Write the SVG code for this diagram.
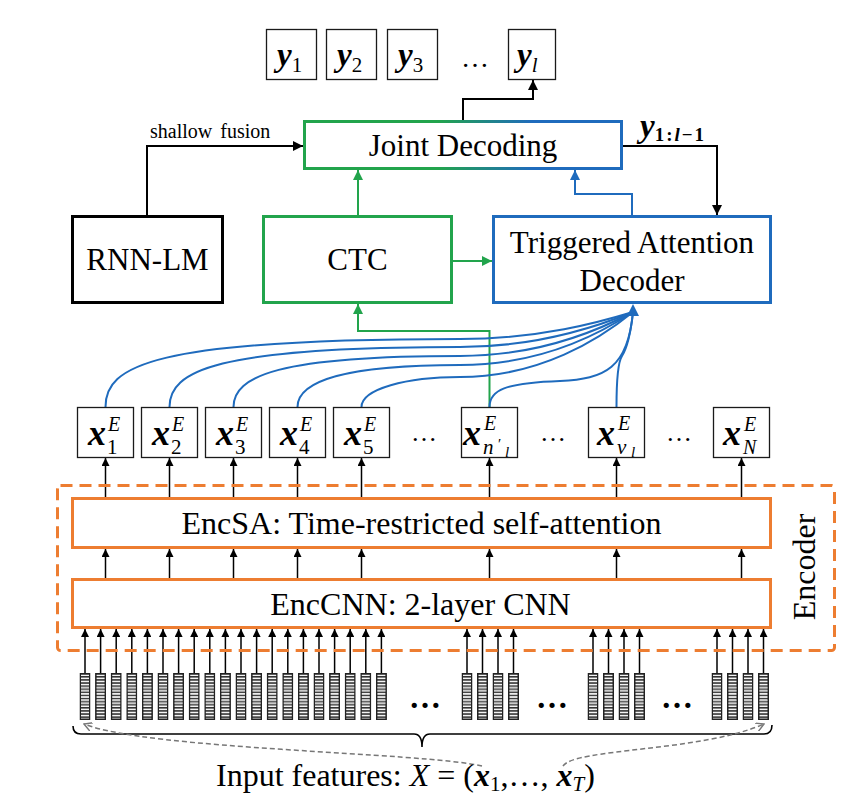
<svg xmlns="http://www.w3.org/2000/svg" xmlns:xlink="http://www.w3.org/1999/xlink" width="862" height="806" viewBox="0 0 862 806">
<style>
text{font-family:"Liberation Serif","Times New Roman",serif;fill:#000}
.big{font-size:31px}
.mid{font-size:32px}
.bi{font-weight:bold;font-style:italic}
.it{font-style:italic}
.box{fill:#fff;stroke:#1a1a1a;stroke-width:1.3}
.ln{fill:none;stroke:#000;stroke-width:2}
.thin{fill:none;stroke:#000;stroke-width:1.5}
.gr{fill:none;stroke:#22a44c;stroke-width:2}
.bl{fill:none;stroke:#1f6bbd;stroke-width:2}
.or{fill:#fff;stroke:#ed7d31;stroke-width:3}
</style>
<defs>
<marker id="ak" viewBox="0 0 10 10" refX="10" refY="5" markerWidth="10" markerHeight="10" markerUnits="userSpaceOnUse" orient="auto"><path d="M0,0 L10,5 L0,10 z" fill="#000"/></marker>
<marker id="aks" viewBox="0 0 10 10" refX="10" refY="5" markerWidth="9" markerHeight="8" markerUnits="userSpaceOnUse" orient="auto"><path d="M0,0 L10,5 L0,10 z" fill="#000"/></marker>
<marker id="ag" viewBox="0 0 10 10" refX="10" refY="5" markerWidth="10" markerHeight="10" markerUnits="userSpaceOnUse" orient="auto"><path d="M0,0 L10,5 L0,10 z" fill="#22a44c"/></marker>
<marker id="ab" viewBox="0 0 10 10" refX="10" refY="5" markerWidth="10" markerHeight="10" markerUnits="userSpaceOnUse" orient="auto"><path d="M0,0 L10,5 L0,10 z" fill="#1f6bbd"/></marker>
<marker id="agr" viewBox="0 0 10 10" refX="9" refY="5" markerWidth="9" markerHeight="9" markerUnits="userSpaceOnUse" orient="auto"><path d="M0,0 L9,5 L0,10" fill="none" stroke="#777" stroke-width="1.6"/></marker>
<linearGradient id="jdg" x1="0" y1="0" x2="1" y2="0">
<stop offset="0" stop-color="#22a44c"/><stop offset="0.42" stop-color="#22a44c"/><stop offset="0.72" stop-color="#1f6bbd"/><stop offset="1" stop-color="#1f6bbd"/>
</linearGradient>
<pattern id="stp" width="11" height="3.1" patternUnits="userSpaceOnUse"><rect width="11" height="1.5" fill="#333"/><rect y="1.5" width="11" height="1.6" fill="#f4f4f4"/></pattern>
<symbol id="bar" viewBox="0 0 11 47" width="11" height="47">
<rect x="0.75" y="0.75" width="9.5" height="45.5" fill="url(#stp)" stroke="#222" stroke-width="1.5"/>
<rect x="1.5" y="13" width="8" height="6" fill="#999" opacity="0.45"/>
<rect x="1.5" y="27" width="8" height="5" fill="#999" opacity="0.45"/>
</symbol>
</defs>

<g id="connectors">
<path class="ln" d="M463,120 V99 H533 V80" marker-end="url(#ak)"/>
<path class="ln" d="M147,215 V146 H303" marker-end="url(#ak)"/>
<path class="ln" d="M623,146 H717 V215" marker-end="url(#ak)"/>
<path class="gr" d="M358,216 V170" marker-end="url(#ag)"/>
<path class="gr" d="M453,261 H492" marker-end="url(#ag)"/>
<path class="bl" d="M632,215 V194 H575 V170" marker-end="url(#ab)"/>
<path class="gr" d="M489.5,407 V331 H358 V304" marker-end="url(#ag)"/>
<path class="bl" d="M105.5,407 C105.5,366 150.5,339 460,339 C540,339 600,322 633,312"/>
<path class="bl" d="M169.5,407 C169.5,371 214.5,347 460,347 C540,347 600,325.5 633,312"/>
<path class="bl" d="M233.5,407 C233.5,376 278.5,356 460,356 C540,356 600,329.6 633,312"/>
<path class="bl" d="M297.5,407 C297.5,382 342.5,365 460,365 C540,365 600,333.7 633,312"/>
<path class="bl" d="M361.5,407 C361.5,389 406.5,377 460,377 C540,377 600,339 633,312"/>
<path class="bl" d="M489.5,407 C489.5,390 505,383 560,381 C605,379 628,368 633,312"/>
<path class="bl" d="M616.5,407 C616.5,385 618,362 622,356 C628,347 631,330 633,312"/>
<polygon points="633,304 627,316 639,316" fill="#1f6bbd"/>
<g class="thin" marker-end="url(#aks)">
<path d="M105.5,497 V458"/><path d="M169.5,497 V458"/><path d="M233.5,497 V458"/><path d="M297.5,497 V458"/><path d="M361.5,497 V458"/><path d="M489.5,497 V458"/><path d="M616.5,497 V458"/><path d="M741.5,497 V458"/>
<path d="M105.5,578 V549"/><path d="M169.5,578 V549"/><path d="M233.5,578 V549"/><path d="M297.5,578 V549"/><path d="M361.5,578 V549"/><path d="M489.5,578 V549"/><path d="M616.5,578 V549"/><path d="M741.5,578 V549"/>
<path d="M85,673 V629"/><path d="M100.6,673 V629"/><path d="M116.2,673 V629"/><path d="M131.8,673 V629"/><path d="M147.4,673 V629"/><path d="M163,673 V629"/><path d="M178.6,673 V629"/><path d="M194.2,673 V629"/><path d="M209.8,673 V629"/><path d="M225.4,673 V629"/><path d="M241,673 V629"/><path d="M256.6,673 V629"/><path d="M272.2,673 V629"/><path d="M287.8,673 V629"/><path d="M303.4,673 V629"/><path d="M319,673 V629"/><path d="M334.6,673 V629"/><path d="M350.2,673 V629"/><path d="M365.8,673 V629"/><path d="M381.4,673 V629"/>
<path d="M467,673 V629"/><path d="M482.5,673 V629"/><path d="M498,673 V629"/><path d="M513.5,673 V629"/>
<path d="M593,673 V629"/><path d="M608.5,673 V629"/><path d="M624,673 V629"/><path d="M639.5,673 V629"/>
<path d="M717,673 V629"/><path d="M732.5,673 V629"/><path d="M748,673 V629"/><path d="M763.5,673 V629"/>
</g>
<path d="M73,726 Q73,734 81,734 H414 Q422,734 422,747 Q422,734 430,734 H764 Q772,734 772,725" fill="none" stroke="#000" stroke-width="1.6"/>
<path d="M482,766 C420,752 150,750 84,724" fill="none" stroke="#777" stroke-width="1.5" stroke-dasharray="5 3" marker-end="url(#agr)"/>
<path d="M563,766 C575,748 700,752 764,724" fill="none" stroke="#777" stroke-width="1.5" stroke-dasharray="5 3" marker-end="url(#agr)"/>
</g>

<g id="y1"><rect class="box" x="266.5" y="29.5" width="50" height="50"/><text x="277" y="66" class="bi" font-size="33">y<tspan font-weight="normal" font-style="normal" font-size="21" dy="6">1</tspan></text></g>
<g id="y2"><rect class="box" x="326.5" y="29.5" width="50" height="50"/><text x="337" y="66" class="bi" font-size="33">y<tspan font-weight="normal" font-style="normal" font-size="21" dy="6">2</tspan></text></g>
<g id="y3"><rect class="box" x="387.5" y="29.5" width="50" height="50"/><text x="398" y="66" class="bi" font-size="33">y<tspan font-weight="normal" font-style="normal" font-size="21" dy="6">3</tspan></text></g>
<g id="ydots"><text x="475" y="67" font-size="28" text-anchor="middle">…</text></g>
<g id="yl"><rect class="box" x="508.5" y="29.5" width="47" height="50"/><text x="517" y="66" class="bi" font-size="33">y<tspan font-weight="normal" font-size="21" dy="6">l</tspan></text></g>

<g id="joint"><rect x="304.5" y="121.5" width="317" height="47" fill="#fff" stroke="url(#jdg)" stroke-width="3"/><text x="463" y="156" class="big" text-anchor="middle">Joint Decoding</text></g>
<g id="shallow"><text x="150" y="138" font-size="20" word-spacing="3">shallow fusion</text></g>
<g id="ylabel"><text x="640" y="137" class="bi" font-size="33">y<tspan font-size="19" font-style="normal" letter-spacing="2" dy="4">1:<tspan font-style="italic">l</tspan>−1</tspan></text></g>

<g id="rnnlm"><rect x="72.5" y="216.5" width="150" height="86" fill="#fff" stroke="#000" stroke-width="3"/><text x="147.5" y="270" class="big" text-anchor="middle">RNN-LM</text></g>
<g id="ctc"><rect x="263.5" y="216.5" width="188" height="86" fill="#fff" stroke="#22a44c" stroke-width="3"/><text x="357.5" y="270" class="big" text-anchor="middle">CTC</text></g>
<g id="tad"><rect x="493.5" y="216.5" width="277" height="86" fill="#fff" stroke="#1f6bbd" stroke-width="3"/><text x="632" y="253" class="big" text-anchor="middle">Triggered Attention</text><text x="632" y="291" class="big" text-anchor="middle">Decoder</text></g>

<g id="xe1"><rect class="box" x="77.5" y="407.5" width="56" height="50"/><text x="88" y="445" class="bi" font-size="36">x<tspan x="108" y="431" font-weight="normal" font-size="20">E</tspan><tspan x="107" y="454" font-weight="normal" font-style="normal" font-size="21">1</tspan></text></g>
<g id="xe2"><rect class="box" x="141.5" y="407.5" width="56" height="50"/><text x="152" y="445" class="bi" font-size="36">x<tspan x="172" y="431" font-weight="normal" font-size="20">E</tspan><tspan x="171" y="454" font-weight="normal" font-style="normal" font-size="21">2</tspan></text></g>
<g id="xe3"><rect class="box" x="205.5" y="407.5" width="56" height="50"/><text x="216" y="445" class="bi" font-size="36">x<tspan x="236" y="431" font-weight="normal" font-size="20">E</tspan><tspan x="235" y="454" font-weight="normal" font-style="normal" font-size="21">3</tspan></text></g>
<g id="xe4"><rect class="box" x="269.5" y="407.5" width="56" height="50"/><text x="280" y="445" class="bi" font-size="36">x<tspan x="300" y="431" font-weight="normal" font-size="20">E</tspan><tspan x="299" y="454" font-weight="normal" font-style="normal" font-size="21">4</tspan></text></g>
<g id="xe5"><rect class="box" x="333.5" y="407.5" width="56" height="50"/><text x="344" y="445" class="bi" font-size="36">x<tspan x="364" y="431" font-weight="normal" font-size="20">E</tspan><tspan x="363" y="454" font-weight="normal" font-style="normal" font-size="21">5</tspan></text></g>
<g id="xdots1"><text x="424" y="441" font-size="26" text-anchor="middle">…</text></g>
<g id="xen"><rect class="box" x="461.5" y="407.5" width="56" height="50"/><text x="463" y="445" class="bi" font-size="36">x<tspan x="484" y="430" font-weight="normal" font-size="20">E</tspan><tspan x="483" y="454" font-weight="normal" font-size="21">n</tspan><tspan x="498" y="449" font-weight="normal" font-style="normal" font-size="15">′</tspan><tspan x="505" y="457" font-weight="normal" font-size="15">l</tspan></text></g>
<g id="xdots2"><text x="553" y="441" font-size="26" text-anchor="middle">…</text></g>
<g id="xev"><rect class="box" x="588.5" y="407.5" width="56" height="50"/><text x="597" y="445" class="bi" font-size="36">x<tspan x="618" y="430" font-weight="normal" font-size="20">E</tspan><tspan x="617" y="454" font-weight="normal" font-size="21">ν</tspan><tspan x="631" y="457" font-weight="normal" font-size="15">l</tspan></text></g>
<g id="xdots3"><text x="679" y="441" font-size="26" text-anchor="middle">…</text></g>
<g id="xeN"><rect class="box" x="713.5" y="407.5" width="56" height="50"/><text x="723" y="445" class="bi" font-size="36">x<tspan x="744" y="431" font-weight="normal" font-size="20">E</tspan><tspan x="743" y="454" font-weight="normal" font-size="20">N</tspan></text></g>

<g id="encoder"><rect x="57.5" y="485.5" width="777" height="165" rx="3" fill="none" stroke="#ed7d31" stroke-width="3" stroke-dasharray="12 7"/><text transform="translate(815,567) rotate(-90)" class="mid" text-anchor="middle">Encoder</text></g>
<g id="encsa"><rect class="or" x="72.5" y="498.5" width="698" height="49"/><text x="421.5" y="534" class="mid" text-anchor="middle">EncSA: Time-restricted self-attention</text></g>
<g id="enccnn"><rect class="or" x="72.5" y="579.5" width="698" height="48"/><text x="420.5" y="615" class="mid" text-anchor="middle">EncCNN: 2-layer CNN</text></g>

<g id="features">
<use xlink:href="#bar" x="79.5" y="673"/><use xlink:href="#bar" x="95.1" y="673"/><use xlink:href="#bar" x="110.7" y="673"/><use xlink:href="#bar" x="126.3" y="673"/><use xlink:href="#bar" x="141.9" y="673"/><use xlink:href="#bar" x="157.5" y="673"/><use xlink:href="#bar" x="173.1" y="673"/><use xlink:href="#bar" x="188.7" y="673"/><use xlink:href="#bar" x="204.3" y="673"/><use xlink:href="#bar" x="219.9" y="673"/><use xlink:href="#bar" x="235.5" y="673"/><use xlink:href="#bar" x="251.1" y="673"/><use xlink:href="#bar" x="266.7" y="673"/><use xlink:href="#bar" x="282.3" y="673"/><use xlink:href="#bar" x="297.9" y="673"/><use xlink:href="#bar" x="313.5" y="673"/><use xlink:href="#bar" x="329.1" y="673"/><use xlink:href="#bar" x="344.7" y="673"/><use xlink:href="#bar" x="360.3" y="673"/><use xlink:href="#bar" x="375.9" y="673"/>
<use xlink:href="#bar" x="461.5" y="673"/><use xlink:href="#bar" x="477" y="673"/><use xlink:href="#bar" x="492.5" y="673"/><use xlink:href="#bar" x="508" y="673"/>
<use xlink:href="#bar" x="587.5" y="673"/><use xlink:href="#bar" x="603" y="673"/><use xlink:href="#bar" x="618.5" y="673"/><use xlink:href="#bar" x="634" y="673"/>
<use xlink:href="#bar" x="711.5" y="673"/><use xlink:href="#bar" x="727" y="673"/><use xlink:href="#bar" x="742.5" y="673"/><use xlink:href="#bar" x="758" y="673"/>
<text x="425" y="708" font-size="32" font-weight="bold" text-anchor="middle">…</text>
<text x="552" y="708" font-size="32" font-weight="bold" text-anchor="middle">…</text>
<text x="677" y="708" font-size="32" font-weight="bold" text-anchor="middle">…</text>
</g>
<g id="inputlabel"><text x="216" y="786" class="mid">Input features: <tspan class="it">X</tspan> = (<tspan class="bi">x</tspan><tspan font-size="21" dy="5">1</tspan><tspan dy="-5">,…, </tspan><tspan class="bi">x</tspan><tspan class="it" font-size="21" dy="5">T</tspan><tspan dy="-5">)</tspan></text></g>
</svg>
